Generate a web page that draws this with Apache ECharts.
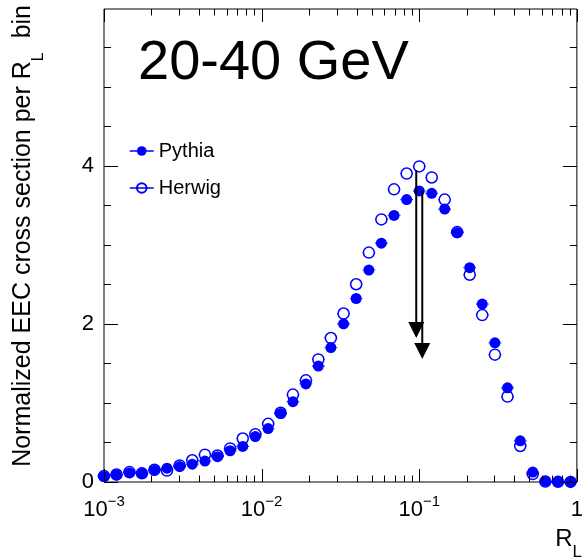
<!DOCTYPE html>
<html>
<head>
<meta charset="utf-8">
<title>EEC 20-40 GeV</title>
<script src="https://cdn.jsdelivr.net/npm/echarts@6/dist/echarts.min.js"></script>
<style>
  html, body { margin: 0; padding: 0; background: #fff; }
  #chart { width: 586px; height: 560px; }
</style>
</head>
<body>
<div id="chart"></div>
<script>
// R_L bin centres (log-spaced)
const rL = [0.00100, 0.00120, 0.00145, 0.00174, 0.00209, 0.00251, 0.00302, 0.00363,
            0.00437, 0.00525, 0.00631, 0.00759, 0.00912, 0.0110, 0.0132, 0.0158,
            0.0191, 0.0229, 0.0275, 0.0331, 0.0398, 0.0479, 0.0575, 0.0692,
            0.0832, 0.100, 0.120, 0.145, 0.174, 0.209, 0.251, 0.302,
            0.363, 0.437, 0.525, 0.631, 0.759, 0.912];

// Normalized EEC per R_L bin
const pythia = [0.07, 0.09, 0.115, 0.11, 0.15, 0.175, 0.195, 0.225,
                0.265, 0.32, 0.395, 0.45, 0.575, 0.675, 0.865, 1.015,
                1.24, 1.465, 1.70, 2.00, 2.32, 2.68, 3.02, 3.37,
                3.57, 3.68, 3.65, 3.45, 3.15, 2.71, 2.25, 1.76,
                1.19, 0.52, 0.125, 0.01, 0.003, 0.002];
const herwig = [0.075, 0.095, 0.125, 0.11, 0.155, 0.145, 0.21, 0.275,
                0.345, 0.335, 0.425, 0.55, 0.605, 0.735, 0.875, 1.105,
                1.285, 1.55, 1.82, 2.13, 2.50, 2.90, 3.32, 3.70,
                3.90, 3.99, 3.85, 3.57, 3.16, 2.62, 2.11, 1.61,
                1.08, 0.455, 0.10, 0.005, 0.002, 0.001];

// Peak markers: x position, start value, arrow tip value
const arrowX   = [0.0957, 0.1045];
const arrowTop = [3.94, 3.69];
const arrowTip = [1.82, 1.555];

// Axis ticks
const xMajorTicks = [0.001, 0.01, 0.1, 1];
const xMinorTicks = [0.002, 0.003, 0.004, 0.005, 0.006, 0.007, 0.008, 0.009,
                     0.02, 0.03, 0.04, 0.05, 0.06, 0.07, 0.08, 0.09,
                     0.2, 0.3, 0.4, 0.5, 0.6, 0.7, 0.8, 0.9];
const yMajorTicks = [0, 2, 4];
const yMinorTicks = [0.5, 1, 1.5, 2.5, 3, 3.5, 4.5, 5, 5.5];

const xMin = 0.001, xMax = 1, yMin = 0, yMax = 5.98;
const FONT = '"Liberation Sans", Arial, Helvetica, sans-serif';
const BLUE = '#0000ff';
const BIN_HALF_DEX = 0.04;
const MARKER = 11;

const crisp = v => Math.round(v) + 0.5;

// Inward tick marks on all four sides of the frame
function tickSeries(values, axis, len) {
  return {
    type: 'custom',
    silent: true,
    clip: false,
    z: 5,
    data: values.map(v => axis === 'x' ? [v, yMin] : [xMin, v]),
    encode: { x: 0, y: 1 },
    renderItem(params, api) {
      let segs;
      if (axis === 'x') {
        const v = api.value(0);
        const a = api.coord([v, yMin]), b = api.coord([v, yMax]);
        const px = crisp(a[0]);
        segs = [[px, a[1], px, a[1] - len], [px, b[1], px, b[1] + len]];
      } else {
        const v = api.value(1);
        const a = api.coord([xMin, v]), b = api.coord([xMax, v]);
        const py = crisp(a[1]);
        segs = [[a[0], py, a[0] + len, py], [b[0], py, b[0] - len, py]];
      }
      return {
        type: 'group',
        children: segs.map(s => ({
          type: 'line',
          shape: { x1: s[0], y1: s[1], x2: s[2], y2: s[3] },
          style: { stroke: '#000', lineWidth: 1 }
        }))
      };
    }
  };
}

// Horizontal bin-width bars on either side of each marker
function binBarSeries(values) {
  const f = Math.pow(10, BIN_HALF_DEX);
  const r = MARKER / 2;
  return {
    type: 'custom',
    silent: true,
    clip: false,
    z: 2,
    data: rL.map((x, i) => [x, values[i]]),
    encode: { x: 0, y: 1 },
    renderItem(params, api) {
      const x = api.value(0), y = api.value(1);
      const c = api.coord([x, y]);
      const a = api.coord([x / f, y]), b = api.coord([x * f, y]);
      const style = { stroke: BLUE, lineWidth: 1.2 };
      return {
        type: 'group',
        children: [
          { type: 'line', shape: { x1: a[0], y1: a[1], x2: c[0] - r, y2: c[1] }, style },
          { type: 'line', shape: { x1: c[0] + r, y1: c[1], x2: b[0], y2: b[1] }, style }
        ]
      };
    }
  };
}

const chart = echarts.init(document.getElementById('chart'), null, { renderer: 'canvas' });

chart.setOption({
  animation: false,
  backgroundColor: '#fff',
  textStyle: { fontFamily: FONT },
  grid: {
    left: 104, right: 4, top: 9, bottom: 78,
    show: true, borderColor: '#000', borderWidth: 1, backgroundColor: 'transparent'
  },
  xAxis: {
    type: 'log',
    logBase: 10,
    min: xMin,
    max: xMax,
    axisLine: { show: false },
    axisTick: { show: false },
    splitLine: { show: false },
    axisLabel: {
      margin: 12,
      color: '#000',
      fontFamily: FONT,
      formatter(v) {
        const e = Math.round(Math.log10(v));
        if (!xMajorTicks.some(t => Math.abs(Math.log10(t) - e) < 1e-6)) return '';
        return e === 0 ? '{b|1}' : '{b|10}{s|\u2212' + Math.abs(e) + '}';
      },
      rich: {
        b: { fontSize: 22, lineHeight: 22, padding: [5, 0, 0, 0], verticalAlign: 'top', color: '#000', fontFamily: FONT },
        s: { fontSize: 15, lineHeight: 15, verticalAlign: 'top', color: '#000', fontFamily: FONT }
      }
    }
  },
  yAxis: {
    type: 'value',
    min: yMin,
    max: yMax,
    interval: 2,
    axisLine: { show: false },
    axisTick: { show: false },
    splitLine: { show: false },
    axisLabel: {
      margin: 10,
      color: '#000',
      fontSize: 22,
      fontFamily: FONT,
      formatter: v => (yMajorTicks.indexOf(v) >= 0 ? String(v) : '')
    }
  },
  legend: {
    orient: 'vertical',
    left: 129,
    top: 141,
    padding: 0,
    itemWidth: 24,
    itemHeight: 12,
    itemGap: 17,
    data: ['Pythia', 'Herwig'],
    lineStyle: { width: 1.5, color: BLUE, opacity: 1 },
    textStyle: { fontSize: 20, lineHeight: 20, color: '#000', fontFamily: FONT, padding: [0, 0, 0, 0] }
  },
  graphic: [
    {
      type: 'text',
      x: 138,
      y: 64,
      silent: true,
      style: { text: '20-40 GeV', font: '56px ' + FONT, fill: '#000', align: 'left', verticalAlign: 'middle' }
    },
    {
      type: 'text',
      x: 11,
      y: 5,
      rotation: Math.PI / 2,
      silent: true,
      style: {
        text: '{m|Normalized EEC cross section per R}{s|L}{m|  bin}',
        align: 'right',
        verticalAlign: 'top',
        rich: {
          m: { fontSize: 25, lineHeight: 25, verticalAlign: 'top', fill: '#000', fontFamily: FONT },
          s: { fontSize: 16, lineHeight: 16, padding: [20, 0, 0, 0], verticalAlign: 'top', fill: '#000', fontFamily: FONT }
        }
      }
    },
    {
      type: 'text',
      x: 582,
      y: 527,
      silent: true,
      style: {
        text: '{m|R}{s|L}',
        align: 'right',
        verticalAlign: 'top',
        rich: {
          m: { fontSize: 24, lineHeight: 24, verticalAlign: 'top', fill: '#000', fontFamily: FONT },
          s: { fontSize: 17, lineHeight: 17, padding: [17, 0, 0, 0], verticalAlign: 'top', fill: '#000', fontFamily: FONT }
        }
      }
    }
  ],
  series: [
    tickSeries(xMajorTicks, 'x', 13),
    tickSeries(xMinorTicks, 'x', 6.5),
    tickSeries(yMajorTicks, 'y', 14),
    tickSeries(yMinorTicks, 'y', 7),
    binBarSeries(pythia),
    binBarSeries(herwig),
    {
      name: 'Pythia',
      type: 'line',
      clip: false,
      z: 3,
      data: rL.map((x, i) => [x, pythia[i]]),
      symbol: 'circle',
      symbolSize: MARKER,
      itemStyle: { color: BLUE },
      lineStyle: { width: 0, color: BLUE }
    },
    {
      name: 'Herwig',
      type: 'line',
      clip: false,
      z: 4,
      data: rL.map((x, i) => [x, herwig[i]]),
      symbol: 'circle',
      symbolSize: MARKER,
      itemStyle: { color: 'rgba(0,0,0,0)', borderColor: BLUE, borderWidth: 1.5 },
      lineStyle: { width: 0, color: BLUE }
    },
    {
      type: 'custom',
      silent: true,
      clip: false,
      z: 6,
      data: arrowX.map((x, i) => [x, arrowTop[i], arrowTip[i]]),
      encode: { x: 0, y: [1, 2] },
      renderItem(params, api) {
        const x = api.value(0);
        const top = api.coord([x, api.value(1)]);
        const tip = api.coord([x, api.value(2)]);
        const headH = 16, headW = 8;
        return {
          type: 'group',
          children: [
            {
              type: 'line',
              shape: { x1: top[0], y1: top[1], x2: tip[0], y2: tip[1] - headH + 1 },
              style: { stroke: '#000', lineWidth: 2 }
            },
            {
              type: 'polygon',
              shape: { points: [[tip[0] - headW, tip[1] - headH], [tip[0] + headW, tip[1] - headH], [tip[0], tip[1]]] },
              style: { fill: '#000' }
            }
          ]
        };
      }
    }
  ]
});
</script>
</body>
</html>
